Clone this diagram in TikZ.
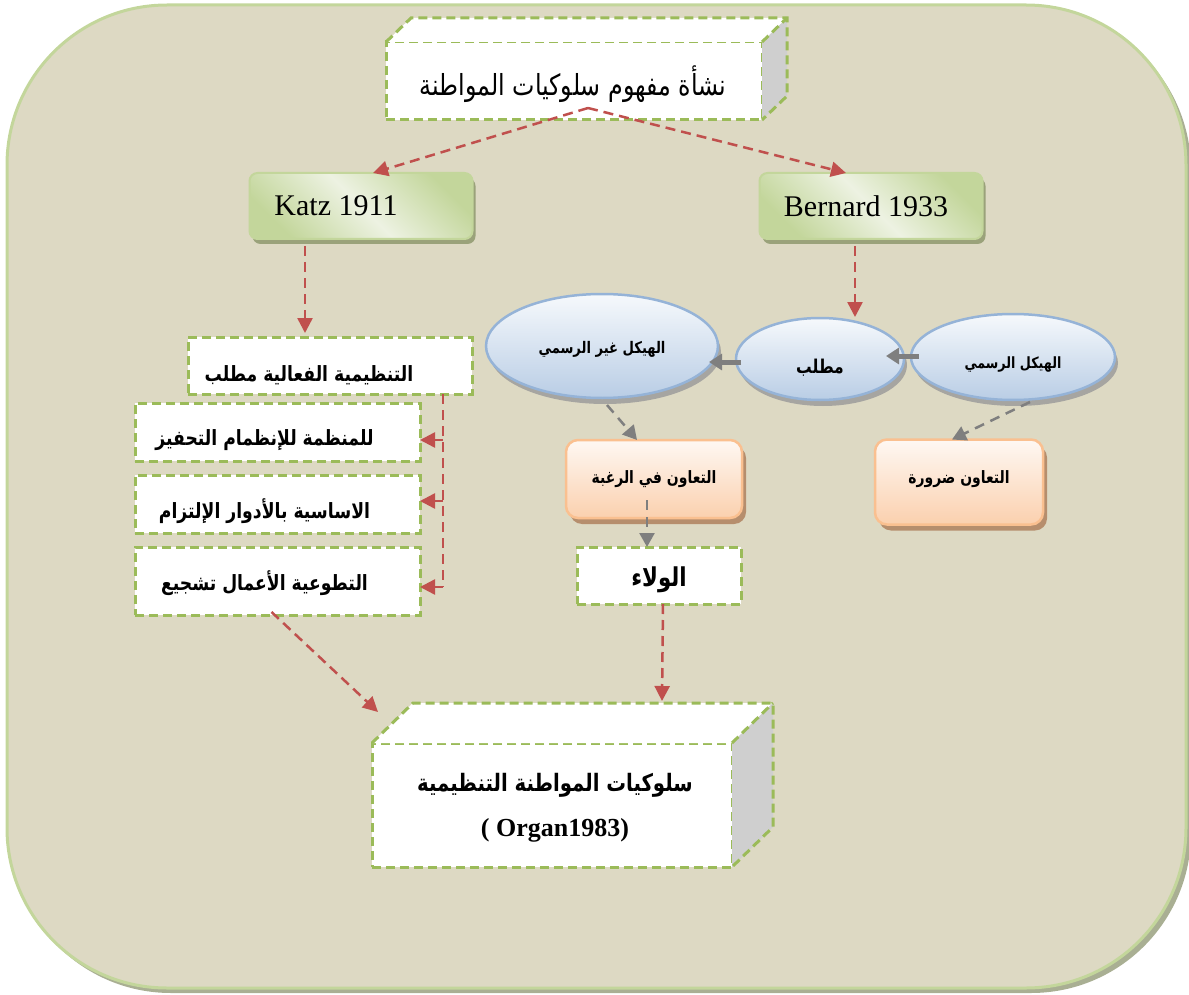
\documentclass[tikz,border=0pt]{standalone}
\usepackage{fontspec}
\setmainfont{Liberation Serif}
\newfontfamily\arabicfont[Script=Arabic,FakeStretch=0.82]{DejaVu Sans}
\TeXXeTstate=1
\usetikzlibrary{arrows.meta,calc,shapes.geometric,shadows}

\definecolor{bgfill}{HTML}{DDD9C3}
\definecolor{bgline}{HTML}{C3D69B}
\definecolor{bgshade}{HTML}{A9AF93}
\definecolor{redc}{HTML}{C0504D}
\definecolor{dashgreen}{HTML}{9BBB59}
\definecolor{sidegray}{HTML}{CFCFCF}
\definecolor{glight}{HTML}{EDF2E2}
\definecolor{gdark}{HTML}{C3D69B}
\definecolor{gshade}{HTML}{9AA27A}
\definecolor{bluetop}{HTML}{F6F9FC}
\definecolor{bluebot}{HTML}{B9CDE5}
\definecolor{blueline}{HTML}{95B3D7}
\definecolor{orangetop}{HTML}{FEF8F3}
\definecolor{orangebot}{HTML}{FBD0AE}
\definecolor{orangeline}{HTML}{FAC090}
\definecolor{orangeshade}{HTML}{B68E6D}
\definecolor{grayc}{HTML}{7F7F7F}

% Arabic type at a given size, regular and bold
\newcommand\arfont[1]{\arabicfont\fontsize{#1}{#1}\selectfont}
\newcommand\arbfont[1]{\arabicfont\bfseries\fontsize{#1}{#1}\selectfont}
% move a label down inside its node without changing the node
\newcommand\dropby[2]{\raisebox{-#1}[\height][\depth]{#2}}

% top and right faces behind a front face node
\newcommand\boxdepth[3]{%
  \fill[white] (#1.north west) -- ++(#2,-#3) -- ($(#1.north east)+(#2,-#3)$) -- (#1.north east) -- cycle;
  \fill[sidegray] (#1.north east) -- ++(#2,-#3) -- ($(#1.south east)+(#2,-#3)$) -- (#1.south east) -- cycle;
  \draw[dashedge] (#1.north west) -- ++(#2,-#3) -- ($(#1.north east)+(#2,-#3)$) -- ($(#1.south east)+(#2,-#3)$) -- (#1.south east);
  \draw[dashedge] (#1.north east) -- ++(#2,-#3);
}

\tikzset{
  dashedge/.style={draw=dashgreen, line width=3pt, dash pattern=on 9pt off 5pt},
  whitebox/.style={rectangle, fill=white, dashedge, outer sep=0pt, inner sep=0pt},
  greenbox/.style={rectangle, rounded corners=8pt, draw=gdark, line width=2pt,
    left color=gdark, right color=gdark, middle color=glight, shading angle=-45,
    minimum width=223pt, minimum height=66pt, outer sep=0pt, inner sep=0pt,
    font=\fontsize{30}{30}\selectfont,
    drop shadow={shadow xshift=3pt, shadow yshift=-5pt, fill=gshade, opacity=1}},
  bluebubble/.style={ellipse, draw=blueline, line width=2.5pt, top color=bluetop, bottom color=bluebot,
    outer sep=0pt, inner sep=0pt,
    drop shadow={shadow xshift=3pt, shadow yshift=-6pt, fill=gray!80, opacity=0.8}},
  orangebox/.style={rectangle, rounded corners=12pt, draw=orangeline, line width=2.5pt,
    top color=orangetop, bottom color=orangebot, outer sep=0pt, inner sep=0pt,
    drop shadow={shadow xshift=4pt, shadow yshift=-6pt, fill=orangeshade, opacity=1}},
  redarr/.style={draw=redc, line width=2.5pt, dash pattern=on 10pt off 6pt,
    -{Triangle[length=15pt,width=15pt]}},
  redline/.style={draw=redc, line width=2.5pt, dash pattern=on 10pt off 6pt},
  grayarr/.style={draw=grayc, line width=5pt, -{Triangle[length=13pt,width=16pt]}},
  graydash/.style={draw=grayc, line width=2.5pt, dash pattern=on 10pt off 7pt,
    -{Triangle[length=14pt,width=15pt]}},
}

\begin{document}
\begin{tikzpicture}[x=1pt,y=-1pt]
\useasboundingbox (0,0) rectangle (1189,995);

% panel
\fill[bgshade, rounded corners=160pt] (11,10) rectangle (1191,993);
\draw[bgline, fill=bgfill, line width=3pt, rounded corners=160pt] (7,5) rectangle (1186,988);

% title box
\node[whitebox, minimum width=376pt, minimum height=78pt] (origin) at (574,81) {};
\boxdepth{origin}{25}{24}
\node (origintext) at (573,84) {\arfont{29}\beginR نشأة مفهوم سلوكيات المواطنة\endR};

% the two sources
\node[greenbox] (katz) at (361,206) {Katz 1911\kern50pt};
\node[greenbox] (bernard) at (871,206) {Bernard 1933\kern10pt};

% Katz branch
\node[whitebox, minimum width=284pt, minimum height=57pt] (b1) at (330,365.5)
  {\dropby{10pt}{\arbfont{21}\beginR التنظيمية الفعالية مطلب\endR}\kern42pt};
\node[whitebox, minimum width=285pt, minimum height=58pt] (b2) at (277.5,432)
  {\dropby{8pt}{\arbfont{21}\beginR للمنظمة للإنظمام التحفيز\endR}\kern26pt};
\node[whitebox, minimum width=285pt, minimum height=58pt] (b3) at (277.5,504)
  {\dropby{7pt}{\arbfont{21}\beginR الاساسية بالأدوار الإلتزام\endR}\kern26pt};
\node[whitebox, minimum width=285pt, minimum height=68pt] (b4) at (277.5,581)
  {\dropby{2pt}{\arbfont{21}\beginR التطوعية الأعمال تشجيع\endR}\kern26pt};

% Bernard branch
\node[bluebubble, minimum width=232pt, minimum height=104pt] (informal) at (602,346)
  {\dropby{3pt}{\arbfont{16}\beginR الهيكل غير الرسمي\endR}};
\node[bluebubble, minimum width=168pt, minimum height=82pt] (need) at (820,359)
  {\dropby{9pt}{\arbfont{19}\beginR مطلب\endR}};
\node[bluebubble, minimum width=204pt, minimum height=86pt] (formal) at (1013,357)
  {\dropby{8pt}{\arbfont{15.5}\beginR الهيكل الرسمي\endR}};

\node[orangebox, minimum width=176pt, minimum height=78pt] (willing) at (654,479)
  {\arbfont{17}\beginR التعاون في الرغبة\endR};
\node[orangebox, minimum width=168pt, minimum height=85pt] (required) at (959,482)
  {\dropby{-3pt}{\arbfont{17}\beginR التعاون ضرورة\endR}};

\node[whitebox, minimum width=164pt, minimum height=57pt] (loyal) at (659,575.5)
  {\dropby{4pt}{\arbfont{26}\beginR الولاء\endR}};

% result box
\node[whitebox, minimum width=360pt, minimum height=124pt] (goal) at (552,805) {};
\boxdepth{goal}{41}{40}
\node[align=center] (goaltext) at (555,808)
  {{\arbfont{24}\beginR سلوكيات المواطنة التنظيمية\endR}\\[20pt]
   {\bfseries\fontsize{26}{26}\selectfont\beginL( Organ1983)\endL}};

% connectors
\coordinate (peak) at (588,108);
\draw[redarr] (peak) -- ($(katz.north)+(12,0)$);
\draw[redarr] (peak) -- ($(bernard.north)+(-25,0)$);

\draw[redarr] ($(katz.south)+(-56,7)$) -- ($(b1.north)+(-25,-4)$);
\coordinate (s1) at (443,440);
\coordinate (s2) at (443,501);
\coordinate (s3) at (443,587);
\draw[redline] (b1.south -| s1) -- (s3);
\draw[redarr] (s1) -- (s1 -| b2.east);
\draw[redarr] (s2) -- (s2 -| b3.east);
\draw[redarr] (s3) -- (s3 -| b4.east);
\draw[redarr] ($(b4.south)+(-6,-3)$) -- ($(goal.north west)+(6,-31)$);

\draw[redarr] ($(bernard.south)+(-16,7)$) -- ($(need.north)+(35,-1)$);
\draw[grayarr] ($(formal.west)+(8,-1)$) -- ($(need.east)+(-18,-3)$);
\draw[grayarr] ($(need.west)+(5,3)$) -- ($(informal.east)+(-9,16)$);
\draw[graydash] ($(informal.south)+(5,7)$) -- ($(willing.north)+(-17,0)$);
\draw[graydash] ($(formal.south)+(17,2)$) -- ($(required.north)+(-7,0)$);
\draw[graydash] ($(willing.center)+(-7,21)$) -- ($(loyal.north)+(-12,0)$);
\draw[redarr] ($(loyal.south)+(4,0)$) -- ($(goal.north)+(110,-42)$);
\end{tikzpicture}
\end{document}
